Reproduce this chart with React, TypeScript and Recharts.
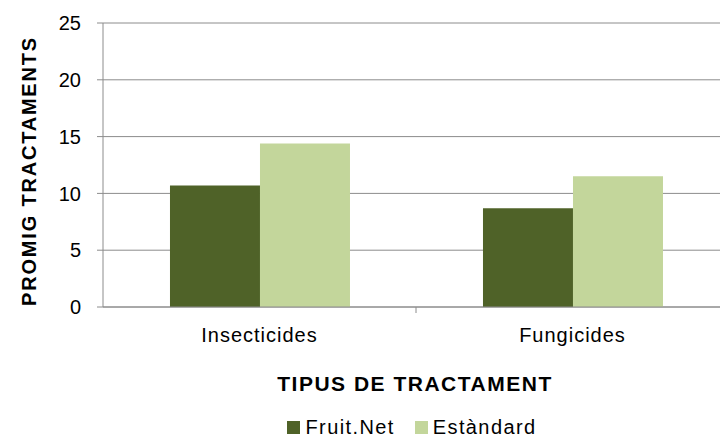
import { BarChart, Bar, XAxis, YAxis, CartesianGrid, Legend, Label } from 'recharts'

const categories = ['Insecticides', 'Fungicides']
const fruitNet = [10.7, 8.7]
const estandard = [14.4, 11.5]
const yTicks = [0, 5, 10, 15, 20, 25]

const COLORS = { fruitNet: '#4F6228', estandard: '#C3D69B', grid: '#8C8C8C' }
const FONT = '"Liberation Sans", Arial, sans-serif'

const data = categories.map((c, i) => ({ name: c, fruitNet: fruitNet[i], estandard: estandard[i] }))

const PLOT_W = 626

function CatTick({ x, y, payload }: any) {
  const half = PLOT_W / categories.length / 2
  return (
    <g>
      <line x1={x + half} x2={x + half} y1={y - 8} y2={y - 2} stroke={COLORS.grid} strokeWidth={1} />
      <text x={x} y={y + 27} textAnchor="middle" fontSize={20} letterSpacing={1} fill="#000" fontFamily={FONT}>
        {payload.value}
      </text>
    </g>
  )
}

function LegendBox() {
  const items = [
    { label: 'Fruit.Net', color: COLORS.fruitNet },
    { label: 'Estàndard', color: COLORS.estandard },
  ]
  return (
    <div style={{ display: 'flex', justifyContent: 'center', alignItems: 'center', height: 26, gap: 20, fontFamily: FONT, fontSize: 20, letterSpacing: 1.4, color: '#000' }}>
      {items.map((it) => (
        <span key={it.label} style={{ display: 'flex', alignItems: 'center', gap: 5 }}>
          <span style={{ width: 13, height: 13, background: it.color, display: 'inline-block' }} />
          {it.label}
        </span>
      ))}
    </div>
  )
}

export default function App() {
  return (
    <div style={{ position: 'absolute', left: 0, top: 0, width: 720, height: 436, overflow: 'hidden', background: '#fff' }}>
      <BarChart
        width={720}
        height={436}
        data={data}
        margin={{ top: 23, right: -9, left: 0, bottom: 0 }}
        barCategoryGap="21.4%"
        barGap={0}
        style={{ fontFamily: FONT }}
      >
        <CartesianGrid vertical={false} stroke={COLORS.grid} strokeWidth={1} />
        <XAxis
          dataKey="name"
          height={103}
          tick={<CatTick />}
          tickLine={false}
          axisLine={{ stroke: COLORS.grid }}
          interval={0}
        >
          <Label
            content={() => (
              <text x={415} y={391} textAnchor="middle" fontSize={21} letterSpacing={1.5} fontWeight="bold" fill="#000" fontFamily={FONT}>
                TIPUS DE TRACTAMENT
              </text>
            )}
          />
        </XAxis>
        <YAxis
          width={103}
          domain={[0, 25]}
          ticks={yTicks}
          tickSize={6}
          tickMargin={16}
          tick={{ fontSize: 20, fill: '#000', fontFamily: FONT }}
          tickLine={{ stroke: COLORS.grid }}
          axisLine={{ stroke: COLORS.grid }}
        >
          <Label
            content={() => (
              <text x={29} y={171} transform="rotate(-90 29 171)" textAnchor="middle" dominantBaseline="central" fontSize={20} letterSpacing={1.8} fontWeight="bold" fill="#000" fontFamily={FONT}>
                PROMIG TRACTAMENTS
              </text>
            )}
          />
        </YAxis>
        <Legend content={<LegendBox />} wrapperStyle={{ left: 92, width: 640, height: 26, top: 414 }} />
        <Bar dataKey="fruitNet" name="Fruit.Net" fill={COLORS.fruitNet} isAnimationActive={false} />
        <Bar dataKey="estandard" name="Estàndard" fill={COLORS.estandard} isAnimationActive={false} />
      </BarChart>
    </div>
  )
}
